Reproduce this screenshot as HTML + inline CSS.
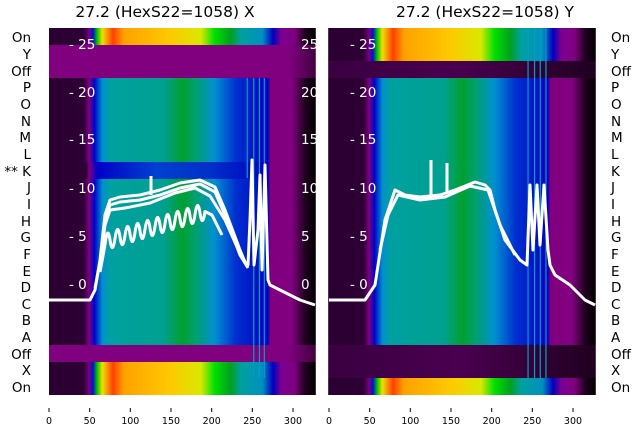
<!DOCTYPE html>
<html><head><meta charset="utf-8"><style>
body{margin:0;background:#fff;width:640px;height:440px;overflow:hidden}
svg{display:block;font-family:"DejaVu Sans","Liberation Sans",sans-serif}
</style></head><body>
<svg width="640" height="440" viewBox="0 0 640 440">
<defs>
<linearGradient id="bright" gradientUnits="userSpaceOnUse" x1="0" y1="0" x2="328" y2="0">
<stop offset="0" stop-color="#2a0030"/><stop offset="0.13" stop-color="#2e0036"/>
<stop offset="0.15" stop-color="#7a0080"/><stop offset="0.165" stop-color="#0010d0"/>
<stop offset="0.18" stop-color="#00c000"/><stop offset="0.2" stop-color="#f0e000"/>
<stop offset="0.24" stop-color="#ff4000"/><stop offset="0.28" stop-color="#ffa000"/>
<stop offset="0.45" stop-color="#ffc800"/><stop offset="0.57" stop-color="#d8e800"/>
<stop offset="0.62" stop-color="#00e000"/><stop offset="0.68" stop-color="#00a020"/>
<stop offset="0.72" stop-color="#00a0a0"/><stop offset="0.8" stop-color="#0090c0"/>
<stop offset="0.84" stop-color="#0000c0"/><stop offset="0.87" stop-color="#7a0090"/>
<stop offset="0.92" stop-color="#800080"/><stop offset="0.96" stop-color="#200020"/>
<stop offset="1" stop-color="#000"/></linearGradient>
<linearGradient id="teal" gradientUnits="userSpaceOnUse" x1="0" y1="0" x2="328" y2="0">
<stop offset="0" stop-color="#2a0030"/><stop offset="0.13" stop-color="#2e0036"/>
<stop offset="0.15" stop-color="#800080"/><stop offset="0.17" stop-color="#0000c8"/>
<stop offset="0.2" stop-color="#0090d0"/><stop offset="0.23" stop-color="#00a0a0"/>
<stop offset="0.43" stop-color="#00a090"/><stop offset="0.5" stop-color="#00a030"/>
<stop offset="0.55" stop-color="#00a070"/><stop offset="0.62" stop-color="#0090d0"/>
<stop offset="0.7" stop-color="#0030d0"/><stop offset="0.82" stop-color="#0000c0"/>
<stop offset="0.83" stop-color="#800080"/><stop offset="0.91" stop-color="#800080"/>
<stop offset="0.96" stop-color="#200020"/><stop offset="1" stop-color="#000"/></linearGradient>
<linearGradient id="kband" gradientUnits="userSpaceOnUse" x1="0" y1="0" x2="328" y2="0">
<stop offset="0" stop-color="#2a0030"/><stop offset="0.14" stop-color="#2e0036"/>
<stop offset="0.15" stop-color="#800080"/><stop offset="0.18" stop-color="#0000c8"/>
<stop offset="0.4" stop-color="#0040d0"/><stop offset="0.6" stop-color="#0030c8"/>
<stop offset="0.82" stop-color="#0000c0"/><stop offset="0.83" stop-color="#800080"/>
<stop offset="0.91" stop-color="#800080"/><stop offset="0.96" stop-color="#200020"/>
<stop offset="1" stop-color="#000"/></linearGradient>
<linearGradient id="purp" gradientUnits="userSpaceOnUse" x1="0" y1="0" x2="328" y2="0">
<stop offset="0" stop-color="#800080"/><stop offset="0.9" stop-color="#800080"/><stop offset="1" stop-color="#400040"/></linearGradient>
<linearGradient id="dpurp" gradientUnits="userSpaceOnUse" x1="0" y1="0" x2="328" y2="0">
<stop offset="0" stop-color="#3a0040"/><stop offset="0.5" stop-color="#4a0050"/><stop offset="1" stop-color="#200020"/></linearGradient>
</defs>
<text x="165" y="17" font-size="15.5" text-anchor="middle" fill="#000">27.2 (HexS22=1058) X</text>
<text x="485" y="17" font-size="15.5" text-anchor="middle" fill="#000">27.2 (HexS22=1058) Y</text>

<g transform="translate(49,0) scale(0.8133,1)">
<rect x="0" y="28" width="328" height="17" fill="url(#bright)"/>
<rect x="0" y="45" width="328" height="33" fill="url(#purp)"/>
<rect x="0" y="78" width="328" height="84" fill="url(#teal)"/>
<rect x="0" y="162" width="328" height="17" fill="url(#kband)"/>
<rect x="0" y="179" width="328" height="166" fill="url(#teal)"/>
<rect x="0" y="345" width="328" height="17" fill="url(#purp)"/>
<rect x="0" y="362" width="328" height="33" fill="url(#bright)"/>
<rect x="243" y="78" width="1.5" height="100" fill="#00a0c0"/>
<rect x="251" y="78" width="1.5" height="300" fill="#00a0c0"/>
<rect x="258" y="78" width="1.5" height="300" fill="#00a0c0"/>
<rect x="264" y="78" width="1.5" height="300" fill="#00a0c0"/>
</g>
<g transform="translate(329,0) scale(0.8133,1)">
<rect x="-1" y="28" width="329" height="33" fill="url(#bright)"/>
<rect x="-1" y="61" width="329" height="17" fill="url(#dpurp)"/>
<rect x="-1" y="78" width="329" height="267" fill="url(#teal)"/>
<rect x="-1" y="345" width="329" height="33" fill="url(#dpurp)"/>
<rect x="-1" y="378" width="329" height="17" fill="url(#bright)"/>
<rect x="244" y="28" width="1.5" height="350" fill="#00a0c0"/>
<rect x="252" y="28" width="1.5" height="350" fill="#00a0c0"/>
<rect x="259" y="28" width="1.5" height="350" fill="#00a0c0"/>
<rect x="266" y="28" width="1.5" height="350" fill="#00a0c0"/>
</g>

<g fill="none" stroke="#fff" stroke-width="3" stroke-linejoin="round">
<polyline points="49,300 90,300 95,290 100,260 105,215 110,200 120,197 140,195 160,190 180,183 200,180 215,187 225,210 240,250 245,262 248,265 250,220 252,160 254,265 258,230 260,175 262,270 265,165 268,280 270,285 280,290 300,300 315,305"/>
<polyline points="95,288 100,262 105,220 110,205 120,202 140,200 160,195 180,188 200,184 215,192 225,215 240,255 248,268"/>
<polyline points="100,265 105,225 110,210 125,208 150,203 175,193 195,188 210,196 225,220 242,258"/>
<path d="M100,272 L105,245 Q107.5,224 110,240 T115,238.5 T120,237 T125,235.5 T130,234 T135,232.5 T140,231 T145,229.5 T150,228 T155,226.5 T160,225 T165,223.5 T170,222 T175,220.5 T180,219 T185,217.5 T190,216 T195,214.5 T200,213 T205,211.5 L212,215 L222,235"/>
<line x1="151" y1="176" x2="151" y2="195"/>
<polyline points="329,300 365,300 375,285 385,220 395,190 405,195 420,197 440,195 455,190 465,186 475,182 485,185 490,190 495,210 505,240 520,260 527,265 530,185 533,250 537,185 540,245 544,185 548,250 550,265 555,275 570,285 585,300 595,305"/>
<polyline points="380,250 388,215 398,195 420,200 445,197 470,186 488,190 500,225 515,255"/>
<line x1="431" y1="160" x2="431" y2="195"/>
<line x1="447" y1="163" x2="447" y2="193"/>
</g>

<g font-size="13.5" fill="#fff">
<text x="69" y="49">- 25</text><text x="69" y="97">- 20</text><text x="69" y="144">- 15</text>
<text x="69" y="193">- 10</text><text x="69" y="241">- 5</text><text x="69" y="289">- 0</text>
<text x="301" y="49">25</text><text x="301" y="97">20</text><text x="301" y="144">15</text>
<text x="301" y="193">10</text><text x="301" y="241">5</text><text x="301" y="289">0</text>
<text x="350" y="49">- 25</text><text x="350" y="97">- 20</text><text x="350" y="144">- 15</text>
<text x="350" y="193">- 10</text><text x="350" y="241">- 5</text><text x="350" y="289">- 0</text>
</g>

<g font-size="13.5" fill="#000" text-anchor="end">
<text x="31" y="42">On</text><text x="31" y="59">Y</text><text x="31" y="76">Off</text>
<text x="31" y="92">P</text><text x="31" y="109">O</text><text x="31" y="126">N</text>
<text x="31" y="142">M</text><text x="31" y="159">L</text><text x="31" y="176">** K</text>
<text x="31" y="192">J</text><text x="31" y="209">I</text><text x="31" y="226">H</text>
<text x="31" y="242">G</text><text x="31" y="259">F</text><text x="31" y="276">E</text>
<text x="31" y="292">D</text><text x="31" y="309">C</text><text x="31" y="325">B</text>
<text x="31" y="342">A</text><text x="31" y="359">Off</text><text x="31" y="375">X</text>
<text x="31" y="392">On</text>
</g>
<g font-size="13.5" fill="#000">
<text x="611" y="42">On</text><text x="611" y="59">Y</text><text x="611" y="76">Off</text>
<text x="611" y="92">P</text><text x="611" y="109">O</text><text x="611" y="126">N</text>
<text x="611" y="142">M</text><text x="611" y="159">L</text><text x="611" y="176">K</text>
<text x="611" y="192">J</text><text x="611" y="209">I</text><text x="611" y="226">H</text>
<text x="611" y="242">G</text><text x="611" y="259">F</text><text x="611" y="276">E</text>
<text x="611" y="292">D</text><text x="611" y="309">C</text><text x="611" y="325">B</text>
<text x="611" y="342">A</text><text x="611" y="359">Off</text><text x="611" y="375">X</text>
<text x="611" y="392">On</text>
</g>

<g stroke="#000" stroke-width="1">
<line x1="49" y1="408" x2="49" y2="412"/><line x1="89.7" y1="408" x2="89.7" y2="412"/>
<line x1="130.3" y1="408" x2="130.3" y2="412"/><line x1="171" y1="408" x2="171" y2="412"/>
<line x1="211.7" y1="408" x2="211.7" y2="412"/><line x1="252.3" y1="408" x2="252.3" y2="412"/>
<line x1="293" y1="408" x2="293" y2="412"/>
<line x1="329" y1="408" x2="329" y2="412"/><line x1="369.7" y1="408" x2="369.7" y2="412"/>
<line x1="410.3" y1="408" x2="410.3" y2="412"/><line x1="451" y1="408" x2="451" y2="412"/>
<line x1="491.7" y1="408" x2="491.7" y2="412"/><line x1="532.3" y1="408" x2="532.3" y2="412"/>
<line x1="573" y1="408" x2="573" y2="412"/>
</g>
<g font-size="9.5" fill="#000" text-anchor="middle">
<text x="49" y="424">0</text><text x="89.7" y="424">50</text><text x="130.3" y="424">100</text>
<text x="171" y="424">150</text><text x="211.7" y="424">200</text><text x="252.3" y="424">250</text>
<text x="293" y="424">300</text>
<text x="329" y="424">0</text><text x="369.7" y="424">50</text><text x="410.3" y="424">100</text>
<text x="451" y="424">150</text><text x="491.7" y="424">200</text><text x="532.3" y="424">250</text>
<text x="573" y="424">300</text>
</g>
</svg>
</body></html>
